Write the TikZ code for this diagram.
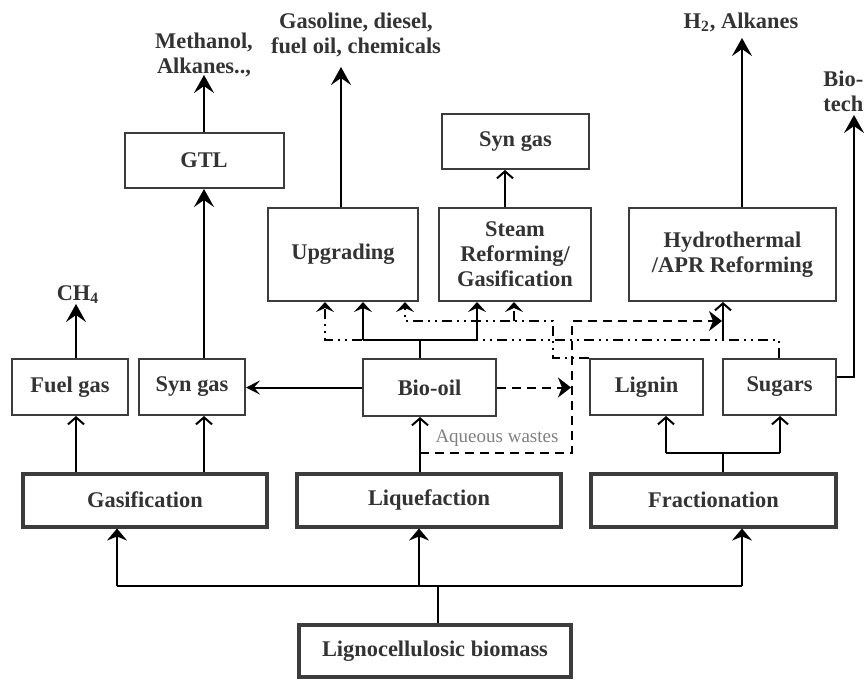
\documentclass[tikz,border=0pt]{standalone}
\usepackage{fontspec}
\setmainfont{Liberation Serif}
\usetikzlibrary{arrows.meta}
\definecolor{boxgray}{HTML}{3C3C3C}
\definecolor{txtgray}{HTML}{333333}
\begin{document}
\begin{tikzpicture}
	[x=0.5pt,y=-0.5pt,
	every node/.style={font=\fontsize{11.2}{12.5}\selectfont\bfseries,text=txtgray},
	box/.style={draw=boxgray,line width=1pt,inner sep=1pt,align=center},
	mainbox/.style={box,line width=2pt},
	link/.style={line width=1pt,-{Straight Barb[length=3.5pt,width=8pt]}},
	product/.style={line width=1pt,-{Stealth[length=9pt,width=10pt,inset=3.5pt]}},
	feed/.style={line width=1.3pt,-{Stealth[length=6pt,width=10pt,inset=2pt]}},
	feedup/.style={line width=1pt,-{Stealth[length=5pt,width=9pt,inset=2pt]}},
	waste/.style={line width=1pt,dash pattern=on 4.5pt off 3pt},
	dashdotdot/.style={line width=1pt,dash pattern=on 5pt off 2.5pt on 1pt off 2.5pt on 1pt off 2.5pt}]
	\useasboundingbox (0,0) rectangle (868,682);
	\node[mainbox,minimum width=136pt,minimum height=26pt] (biomass) at (435,651) {Lignocellulosic biomass};
	\node[mainbox,minimum width=122pt,minimum height=26.5pt] (gasif) at (145,500) {Gasification};
	\node[mainbox,minimum width=132pt,minimum height=26.5pt] (liquef) at (429,500) {Liquefaction};
	\node[mainbox,minimum width=122.5pt,minimum height=26.5pt] (fract) at (713.5,500) {Fractionation};
	\node[box,minimum width=58pt,minimum height=28pt] (fuelgas) at (70,387) {Fuel gas};
	\node[box,minimum width=53pt,minimum height=28pt] (syngasA) at (192,387) {Syn gas};
	\node[box,minimum width=66.5pt,minimum height=28.5pt] (biooil) at (429.5,387.5) {Bio-oil};
	\node[box,minimum width=56.5pt,minimum height=28pt] (lignin) at (646.5,387) {Lignin};
	\node[box,minimum width=56.5pt,minimum height=28pt] (sugars) at (779.5,387) {Sugars};
	\node[box,minimum width=79.5pt,minimum height=27.5pt] (gtl) at (204,160.5) {GTL};
	\node[box,minimum width=75pt,minimum height=46.5pt] (upgrading) at (343,254.5) {Upgrading};
	\node[box,minimum width=76pt,minimum height=46.5pt] (steam) at (515,254.5) {Steam\\Reforming/\\Gasification};
	\node[box,minimum width=73.5pt,minimum height=27.5pt] (syngasB) at (515.5,141.5) {Syn gas};
	\node[box,minimum width=103.5pt,minimum height=46.5pt] (hydro) at (732.5,254.5) {Hydrothermal\\/APR Reforming};
	\node[anchor=base] (ch4) at (78,300) {CH\textsubscript{4}};
	\node[align=center] (fuels) at (204,55) {Methanol,\\Alkanes..,};
	\node[align=center] (oils) at (356,35) {Gasoline, diesel,\\fuel oil, chemicals};
	\node[anchor=base] (hydrogen) at (741,28) {H\textsubscript{2}, Alkanes};
	\node[align=left,anchor=west,inner sep=0pt] (biotech) at (823,91) {Bio-\\tech};
	\node[anchor=base,font=\fontsize{9.5}{11}\selectfont,text=gray] (aqueous) at (497,442) {Aqueous wastes};
	\coordinate (bus) at (438,586);
	\draw[line width=1.3pt] (438,0 |- biomass.north) -- (bus);
	\draw[line width=1.3pt] (117,586) -- (742,586);
	\draw[feed] (117,586) -- (117,0 |- gasif.south);
	\draw[feed] (419,586) -- (419,0 |- liquef.south);
	\draw[feed] (742,586) -- (742,0 |- fract.south);
	\draw[link] (76,0 |- gasif.north) -- (76,0 |- fuelgas.south);
	\draw[link] (204,0 |- gasif.north) -- (204,0 |- syngasA.south);
	\draw[product] (76,0 |- fuelgas.north) -- (76,304);
	\draw[product] (204,0 |- syngasA.north) -- (204,0 |- gtl.south);
	\draw[product] (gtl.north) -- (204,75);
	\draw[line width=1pt,-{Stealth[length=7pt,width=7pt,inset=3pt]}] (biooil.west) -- (syngasA.east |- biooil.west);
	\draw[link] (420,0 |- liquef.north) -- (420,0 |- biooil.south);
	\draw[waste,-{Stealth[length=6.5pt,width=10pt,inset=2pt]}] (420,453) -- (572,453) -- (572,321) -- (722,321);
	\draw[waste,-{Stealth[length=6.5pt,width=10pt,inset=2pt]}] (biooil.east) -- (571,0 |- biooil.east);
	\draw[dashdotdot,-{Stealth[length=5pt,width=9pt,inset=2pt]}] (779,0 |- sugars.north) -- (779,340) -- (325,340) -- (325,0 |- upgrading.south);
	\draw[link] (723,340) -- (723,0 |- hydro.south);
	\draw[line width=1pt] (420,0 |- biooil.north) -- (420,340);
	\draw[line width=1pt] (363,340) -- (477,340);
	\draw[feedup] (363,340) -- (363,0 |- upgrading.south);
	\draw[feedup] (477,340) -- (477,0 |- steam.south);
	\draw[dashdotdot,-{Stealth[length=5pt,width=9pt,inset=2pt]}] (lignin.north west) -- (553,0 |- lignin.north west) -- (553,321) -- (405,321) -- (405,0 |- upgrading.south);
	\draw[dashdotdot,-{Stealth[length=5pt,width=9pt,inset=2pt]}] (514,321) -- (514,0 |- steam.south);
	\draw[line width=1pt] (723,0 |- fract.north) -- (723,453);
	\draw[line width=1pt] (666,453) -- (780,453);
	\draw[link] (666,453) -- (666,0 |- lignin.south);
	\draw[link] (780,453) -- (780,0 |- sugars.south);
	\draw[product] (sugars.east |- 0,377) -- (854,377) -- (854,115);
	\draw[link] (505,0 |- steam.north) -- (505,0 |- syngasB.south);
	\draw[product] (341,0 |- upgrading.north) -- (341,67);
	\draw[product] (742,0 |- hydro.north) -- (742,38);
\end{tikzpicture}
\end{document}
